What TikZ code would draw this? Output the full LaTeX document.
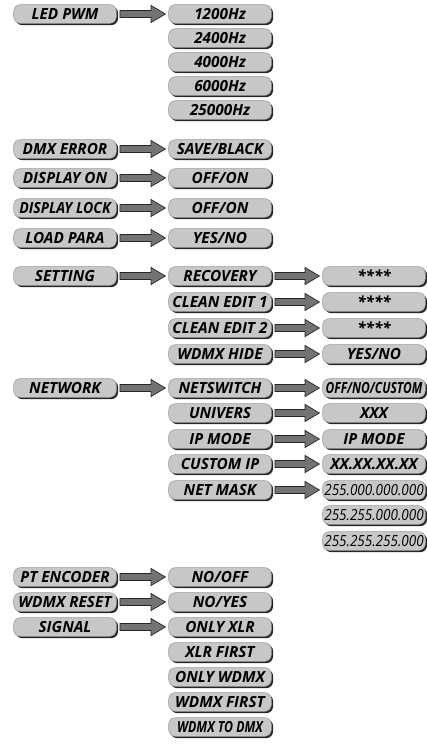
\documentclass[tikz,border=0pt]{standalone}
\usepackage{fontspec}
\setmainfont{Open Sans}
\usetikzlibrary{shadows,calc}

\tikzset{
  menubox/.style={rounded corners=5pt, fill=black!22, draw=black!40, line width=0.4pt,
    drop shadow={shadow xshift=1.3pt, shadow yshift=-1.3pt, fill=black!85, opacity=1},
    minimum width=77pt, minimum height=14pt, inner sep=0pt,
    font=\fontsize{11.5}{12}\selectfont\bfseries\itshape},
  menuarrow/.style={fill=black!55, draw=black!85, line width=0.5pt, line join=miter},
}
\newcommand\pusharrow[2]{%
  \path[menuarrow] let \p1=(#1.east), \p2=(#2.west) in
    (\x1+2.5pt,\y1+2.6pt) -- (\x2-13pt,\y1+2.6pt) -- (\x2-13pt,\y1+6.4pt)
    -- (\x2-2.2pt,\y1) -- (\x2-13pt,\y1-6.4pt) -- (\x2-13pt,\y1-2.6pt)
    -- (\x1+2.5pt,\y1-2.6pt) -- cycle;}
\newcommand\squeeze[2][0.8]{\scalebox{#1}[1]{#2}}

\begin{document}
\begin{tikzpicture}[x=0.75pt,y=0.75pt,yscale=-1,xscale=1]
\useasboundingbox (0,0) rectangle (427,747);

% LED PWM
\node[menubox] (ledpwm) at (65,14) {LED PWM};
\node[menubox] (f1200) at (220,14) {1200Hz};
\node[menubox] (f2400) at (220,38) {2400Hz};
\node[menubox] (f4000) at (220,62) {4000Hz};
\node[menubox] (f6000) at (220,86) {6000Hz};
\node[menubox] (f25000) at (220,110) {25000Hz};
\pusharrow{ledpwm}{f1200}

% simple settings
\node[menubox] (dmxerr) at (65,149) {DMX ERROR};
\node[menubox] (saveblack) at (220,149) {SAVE/BLACK};
\node[menubox] (dispon) at (65,178) {DISPLAY ON};
\node[menubox] (offon1) at (220,178) {OFF/ON};
\node[menubox] (displock) at (65,208) {\squeeze[0.92]{DISPLAY LOCK}};
\node[menubox] (offon2) at (220,208) {OFF/ON};
\node[menubox] (loadpara) at (65,238) {LOAD PARA};
\node[menubox] (yesno1) at (220,238) {YES/NO};
\pusharrow{dmxerr}{saveblack}
\pusharrow{dispon}{offon1}
\pusharrow{displock}{offon2}
\pusharrow{loadpara}{yesno1}

% SETTING
\node[menubox] (setting) at (65,276) {SETTING};
\node[menubox] (recovery) at (220,276) {RECOVERY};
\node[menubox] (cleanone) at (220,302) {CLEAN EDIT 1};
\node[menubox] (cleantwo) at (220,328) {CLEAN EDIT 2};
\node[menubox] (wdmxhide) at (220,354) {WDMX HIDE};
\node[menubox] (stars1) at (374,276) {****};
\node[menubox] (stars2) at (374,302) {****};
\node[menubox] (stars3) at (374,328) {****};
\node[menubox] (yesno2) at (374,354) {YES/NO};
\pusharrow{setting}{recovery}
\pusharrow{recovery}{stars1}
\pusharrow{cleanone}{stars2}
\pusharrow{cleantwo}{stars3}
\pusharrow{wdmxhide}{yesno2}

% NETWORK
\node[menubox] (network) at (65,388) {NETWORK};
\node[menubox] (netswitch) at (220,388) {NETSWITCH};
\node[menubox] (univers) at (220,413) {UNIVERS};
\node[menubox] (ipmode) at (220,439) {IP MODE};
\node[menubox] (customip) at (220,464) {CUSTOM IP};
\node[menubox] (netmask) at (220,490) {NET MASK};
\node[menubox] (offnocustom) at (374,388) {\squeeze[0.78]{OFF/NO/CUSTOM}};
\node[menubox] (xxx) at (374,413) {XXX};
\node[menubox] (ipmodeval) at (374,439) {IP MODE};
\node[menubox] (ipaddr) at (374,464) {XX.XX.XX.XX};
\node[menubox] (maska) at (374,490) {\squeeze[0.88]{\mdseries\itshape 255.000.000.000}};
\node[menubox] (maskb) at (374,515) {\squeeze[0.88]{\mdseries\itshape 255.255.000.000}};
\node[menubox] (maskc) at (374,541) {\squeeze[0.88]{\mdseries\itshape 255.255.255.000}};
\pusharrow{network}{netswitch}
\pusharrow{netswitch}{offnocustom}
\pusharrow{univers}{xxx}
\pusharrow{ipmode}{ipmodeval}
\pusharrow{customip}{ipaddr}
\pusharrow{netmask}{maska}

% PT ENCODER, WDMX RESET, SIGNAL
\node[menubox] (ptenc) at (65,577) {PT ENCODER};
\node[menubox] (nooff) at (220,577) {NO/OFF};
\node[menubox] (wdmxreset) at (65,602) {WDMX RESET};
\node[menubox] (noyes) at (220,602) {NO/YES};
\node[menubox] (signal) at (65,627) {SIGNAL};
\node[menubox] (onlyxlr) at (220,627) {ONLY XLR};
\node[menubox] (xlrfirst) at (220,652) {XLR FIRST};
\node[menubox] (onlywdmx) at (220,677) {ONLY WDMX};
\node[menubox] (wdmxfirst) at (220,702) {WDMX FIRST};
\node[menubox] (wdmxtodmx) at (220,727) {\squeeze{WDMX TO DMX}};
\pusharrow{ptenc}{nooff}
\pusharrow{wdmxreset}{noyes}
\pusharrow{signal}{onlyxlr}

\end{tikzpicture}
\end{document}
